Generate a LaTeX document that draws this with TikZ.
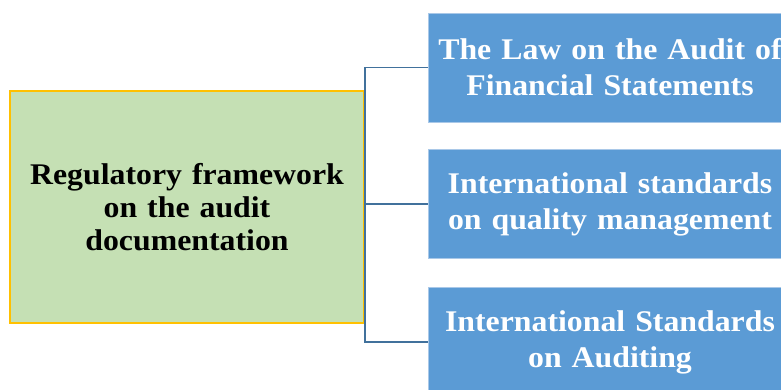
\documentclass[tikz,border=0pt]{standalone}
\usepackage{fontspec}
\setmainfont[FakeStretch=1.06, WordSpace=0.75]{Liberation Serif}
\begin{document}
\begin{tikzpicture}[
    x=1pt, y=-1pt,
    root/.style={rectangle, draw=rootedge, line width=1.2pt,
        fill=rootgreen, minimum width=354pt, minimum height=232pt, text width=340pt, align=center,
        font=\fontsize{30}{33}\selectfont\bfseries},
    leaf/.style={rectangle, draw=leafedge, line width=0.8pt, fill=leafblue, text=white,
        minimum width=364pt, minimum height=109pt, text width=354pt, align=center,
        font=\fontsize{30}{36}\selectfont\bfseries},
    link/.style={draw=linkblue, line width=1.3pt}
]
\definecolor{rootgreen}{HTML}{C5E0B4}
\definecolor{rootedge}{HTML}{FFC000}
\definecolor{leafblue}{HTML}{5B9BD5}
\definecolor{leafedge}{HTML}{A9C8E8}
\definecolor{linkblue}{HTML}{41719C}

\clip (0,0) rectangle (781,389);

% Framework box
\node[root] (frame) at (187,207) {Regulatory framework\\on the audit\\documentation};

% Sources
\node[leaf] (law) at (610,67.5) {The Law on the Audit of\\Financial Statements};
\node[leaf] (quality) at (610,204) {International standards\\on quality management};
\node[leaf] (isa) at (610,342) {International Standards\\on Auditing};

% Bracket connectors
\coordinate (bus) at (365,0);
\draw[link] (law.west) -- (law.west -| bus) -- (isa.west -| bus) -- (isa.west);
\draw[link] (quality.west) -- (quality.west -| bus);

\end{tikzpicture}
\end{document}
